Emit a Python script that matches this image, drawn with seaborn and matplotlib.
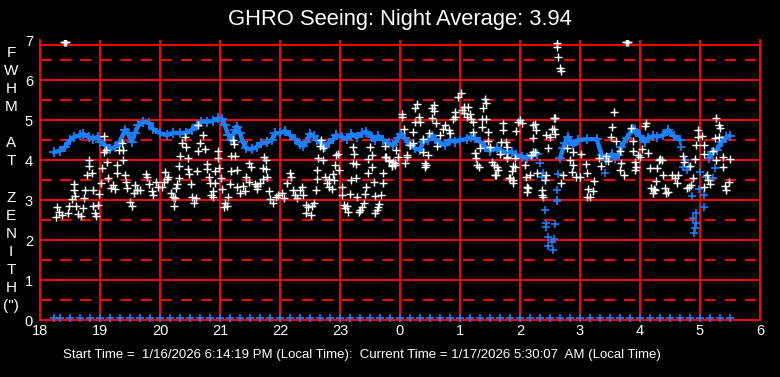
import seaborn as sns
import matplotlib.pyplot as plt

sns.set_style("dark")
plt.rcParams["font.family"] = ["Liberation Sans", "DejaVu Sans"]

# hours keep counting past midnight: 24 = 0h, 25 = 1h ...
tick_hours = [18, 19, 20, 21, 22, 23, 24, 25, 26, 27, 28, 29, 30]
tick_labels = ["18", "19", "20", "21", "22", "23", "0", "1", "2", "3", "4", "5", "6"]
y_ticks = [0, 1, 2, 3, 4, 5, 6, 7]
solid_levels = [1, 2, 3, 4, 5, 6]
dashed_levels = [0.5, 1.5, 2.5, 3.5, 4.5, 5.5, 6.5]

# blue running average (three pieces, broken where it drops)
avg1_h = [18.23, 18.33, 18.42, 18.50, 18.56, 18.67, 18.72, 18.81, 18.89, 18.96,
          19.00, 19.08, 19.17, 19.25, 19.33, 19.42, 19.47, 19.53, 19.58, 19.64,
          19.72, 19.81, 19.89, 20.00, 20.11, 20.22, 20.33, 20.44, 20.53, 20.61,
          20.69, 20.78, 20.89, 20.97, 21.03, 21.08, 21.14, 21.19, 21.25, 21.29,
          21.33, 21.38, 21.44, 21.53, 21.61, 21.69, 21.78, 21.86, 21.92, 22.00,
          22.08, 22.17, 22.25, 22.33, 22.39, 22.44, 22.50, 22.56, 22.61, 22.69,
          22.75, 22.81, 22.89, 22.94, 23.03, 23.11, 23.19, 23.28, 23.36, 23.44,
          23.53, 23.58, 23.64, 23.72, 23.81, 23.89, 23.97, 24.02, 24.08, 24.17,
          24.25, 24.33, 24.39, 24.47, 24.53, 24.58, 24.67, 24.75, 24.83, 24.92,
          25.00, 25.11, 25.19, 25.25, 25.33, 25.42, 25.50, 25.61, 25.69, 25.78,
          25.86, 25.94, 26.03, 26.11, 26.20, 26.28]
avg1_v = [4.19, 4.23, 4.33, 4.50, 4.57, 4.62, 4.65, 4.57, 4.53, 4.58,
          4.46, 4.37, 4.27, 4.33, 4.46, 4.75, 4.67, 4.46, 4.67, 4.87,
          4.96, 4.93, 4.77, 4.67, 4.62, 4.68, 4.67, 4.68, 4.75, 4.87,
          4.96, 4.96, 4.98, 5.04, 5.02, 4.87, 4.62, 4.50, 4.75, 4.83,
          4.67, 4.46, 4.29, 4.27, 4.33, 4.42, 4.44, 4.50, 4.67, 4.67,
          4.73, 4.62, 4.52, 4.40, 4.35, 4.46, 4.65, 4.60, 4.50, 4.42,
          4.33, 4.43, 4.52, 4.62, 4.58, 4.52, 4.65, 4.57, 4.67, 4.71,
          4.58, 4.50, 4.60, 4.50, 4.42, 4.37, 4.55, 4.65, 4.54, 4.37,
          4.29, 4.25, 4.46, 4.50, 4.60, 4.52, 4.43, 4.37, 4.50, 4.46,
          4.50, 4.52, 4.58, 4.54, 4.46, 4.33, 4.23, 4.29, 4.23, 4.17,
          4.21, 4.12, 4.08, 4.06, 4.10, 4.15]
avg2_h = [26.67, 26.72, 26.75, 26.80, 26.89, 26.97, 27.11, 27.28, 27.36, 27.44,
          27.53, 27.58, 27.64, 27.69, 27.78, 27.89, 27.92, 28.00, 28.08, 28.14,
          28.22, 28.28, 28.39, 28.47, 28.56, 28.67]
avg2_v = [4.05, 4.30, 4.42, 4.58, 4.37, 4.50, 4.52, 4.52, 4.12, 4.00,
          4.15, 4.05, 4.12, 4.33, 4.56, 4.78, 4.75, 4.60, 4.46, 4.55,
          4.60, 4.58, 4.62, 4.75, 4.60, 4.50]
avg3_h = [29.15, 29.20, 29.28, 29.36, 29.44, 29.50]
avg3_v = [4.05, 4.20, 4.25, 4.46, 4.58, 4.60]

# blue points scattered where the average collapses
drop_h = [26.33, 26.36, 26.39, 26.41, 26.43, 26.44, 26.47, 26.53, 26.47, 26.55,
          26.57, 26.59, 26.61, 26.61, 26.64, 26.62, 27.42, 28.69, 28.72, 28.75,
          28.78, 28.81, 28.87, 28.89, 28.90, 28.92, 28.94, 28.94, 28.98, 29.00,
          29.06, 29.07, 29.10, 29.25, 29.22]
drop_v = [3.93, 3.58, 3.67, 2.75, 2.43, 2.33, 2.07, 1.95, 1.85, 1.75,
          2.02, 2.40, 3.25, 2.98, 3.65, 3.00, 3.67, 4.33, 3.83, 4.00,
          3.75, 3.83, 3.10, 2.54, 2.17, 2.30, 2.42, 2.67, 3.27, 3.70,
          3.12, 2.83, 3.58, 3.80, 3.55]

# blue flags along the bottom
flag_h = [18.23, 18.33, 18.50, 18.67, 18.83,
          19.00, 19.17, 19.33, 19.50, 19.67, 19.83,
          20.00, 20.17, 20.33, 20.50, 20.67, 20.83,
          21.00, 21.17, 21.33, 21.50, 21.67, 21.83,
          22.00, 22.17, 22.33, 22.50, 22.67, 22.83,
          23.00, 23.17, 23.33, 23.50, 23.67, 23.83,
          24.00, 24.17, 24.33, 24.50, 24.67, 24.83,
          25.00, 25.17, 25.33, 25.50, 25.67, 25.83,
          26.00, 26.17, 26.33, 26.50, 26.67, 26.83,
          27.00, 27.17, 27.33, 27.50, 27.67, 27.83,
          28.00, 28.17, 28.33, 28.50, 28.67, 28.83,
          29.00, 29.17, 29.33, 29.50]
flag_v = [0.06] * len(flag_h)

# white individual seeing samples
seeing_h = [
    18.27, 18.29, 18.31, 18.36, 18.40, 18.42, 18.44, 18.47, 18.49, 18.53,
    18.56, 18.57, 18.59, 18.60, 18.64, 18.69, 18.72, 18.74, 18.75, 18.78,
    18.81, 18.82, 18.86, 18.88, 18.89, 18.92, 18.93, 18.97, 18.99, 19.02,
    19.04, 19.06, 19.07, 19.10, 19.12, 19.14, 19.18, 19.21, 19.25, 19.28,
    19.29, 19.31, 19.36, 19.38, 19.39, 19.42, 19.44, 19.45, 19.50, 19.53,
    19.56, 19.58, 19.61, 19.67, 19.77, 19.78, 19.82, 19.86, 19.89, 19.94,
    19.97,
    20.72, 20.64, 20.36, 20.44, 20.42, 20.66, 20.64, 20.75, 20.96, 20.34,
    20.46, 20.96, 21.21, 21.23, 21.19, 21.25, 21.49, 21.51, 21.73, 21.77,
    21.77, 21.72, 21.78, 20.32, 20.47, 20.62, 20.78, 20.79, 20.92, 20.99,
    21.18, 21.28, 20.09, 20.14, 20.31, 20.49, 20.81, 21.02, 20.06, 20.03,
    20.12, 20.28, 20.27, 20.52, 20.83, 20.91, 21.16, 21.04, 20.89, 21.44,
    21.49, 21.38, 21.29, 21.42, 21.33, 21.58, 21.61, 21.67, 21.62, 21.81,
    21.71, 20.18, 20.21, 20.25, 20.23, 20.54, 20.60, 20.56, 20.85, 20.88,
    21.14, 21.08, 21.11, 21.07, 21.83, 21.89, 21.94, 21.97,
    22.69, 22.67, 22.72, 23.22, 23.24, 23.50, 23.53, 23.47, 23.75, 23.94,
    22.97, 22.93, 22.64, 22.72, 23.77, 23.81, 23.89, 23.92, 23.86, 23.97,
    22.92, 22.99, 23.21, 23.27, 22.62, 23.54, 23.46, 23.72, 22.16, 22.18,
    22.11, 22.61, 22.75, 22.89, 22.82, 22.78, 22.81, 22.86, 23.03, 22.90,
    23.18, 23.27, 23.44, 23.56, 23.71, 22.21, 22.36, 22.33, 22.25, 22.28,
    22.39, 22.60, 22.03, 22.06, 23.03, 23.17, 23.29, 23.42, 23.58, 23.69,
    22.43, 22.47, 22.56, 22.54, 22.43, 22.51, 23.06, 23.11, 23.08, 23.13,
    23.40, 23.36, 23.33, 23.31, 23.65, 23.63, 23.61, 23.59, 23.75, 23.81,
    23.86, 23.92,
    25.02, 24.96, 25.42, 25.43, 24.28, 24.25, 24.56, 24.54, 24.57, 24.03,
    24.04, 25.06, 25.04, 25.14, 25.07, 25.17, 25.11, 25.19, 24.91, 24.92,
    24.89, 25.39, 24.31, 24.25, 24.33, 24.53, 24.60, 25.37, 25.44, 25.21,
    25.72, 25.97, 24.75, 24.72, 24.81, 24.83, 24.22, 24.49, 24.66, 25.22,
    25.36, 25.46, 25.71, 25.94, 24.06, 24.21, 24.17, 24.38, 24.62, 25.47,
    25.69, 25.77, 25.33, 25.50, 25.78, 24.38, 24.47, 24.12, 24.11, 25.25,
    25.27, 25.67, 25.79, 25.92, 24.42, 24.44, 24.42, 25.28, 25.31, 25.53,
    25.56, 25.61, 25.89, 25.64, 25.60, 25.86, 25.81, 25.89, 24.08, 25.58,
    25.83, 25.89, 26.14,
    26.03, 26.25, 26.27, 26.22, 26.58, 26.56, 26.50, 26.58, 26.47, 26.25,
    26.19, 26.44, 26.08, 26.17, 26.10, 26.11, 26.11, 26.36, 26.36, 26.39,
    26.28, 26.44, 26.42, 26.69, 26.72, 26.83, 26.86, 26.94, 26.89, 26.78,
    26.62, 26.61, 26.64, 26.67, 26.69, 26.57, 26.00, 26.22, 26.53, 26.21,
    25.78, 25.92, 26.88, 27.02, 27.10, 27.00, 27.11, 27.24, 27.14, 27.12,
    27.17, 27.21, 27.54, 27.52, 27.60, 27.32, 27.35, 27.47, 27.43, 27.67,
    27.69, 27.74, 27.66, 27.57, 27.76, 27.78, 27.80,
    28.10, 27.85, 27.88, 27.89, 27.96, 28.14, 28.04, 28.00, 27.92, 27.94,
    27.92, 28.17, 28.28, 28.31, 28.36, 28.27, 28.19, 28.25, 28.22, 28.39,
    28.53, 28.58, 28.61, 28.42, 28.46, 28.64, 28.71, 28.73, 28.83, 28.89,
    28.81, 28.85, 28.78, 28.92, 28.93, 28.96, 28.97, 29.03, 29.06, 29.07,
    29.11, 29.14, 29.17, 29.22, 29.27, 29.31, 29.27, 29.33, 29.25, 29.32,
    29.38, 29.39, 29.42, 29.44, 29.50, 29.49, 29.06, 28.08, 28.44, 28.23,
    28.33]
seeing_v = [
    2.58, 2.83, 2.71, 2.62, 6.95, 6.95, 6.95, 2.67, 2.86, 3.02,
    3.39, 3.25, 3.10, 2.85, 2.64, 2.60, 2.80, 3.04, 3.25, 3.62,
    4.00, 3.85, 3.67, 3.25, 2.86, 2.67, 2.60, 2.88, 3.15, 3.42,
    3.79, 4.21, 4.60, 4.25, 3.96, 3.54, 3.31, 3.38, 3.27, 3.67,
    3.87, 4.25, 4.42, 4.25, 4.00, 3.62, 3.46, 3.29, 2.94, 2.86,
    3.17, 3.37, 3.25, 3.25, 3.64, 3.58, 3.39, 3.23, 3.12, 3.46,
    3.33,
    4.62, 4.88, 4.43, 4.33, 4.57, 4.42, 4.23, 4.27, 4.23, 4.10,
    4.04, 4.04, 4.50, 4.40, 4.10, 4.10, 3.93, 3.83, 4.07, 4.00,
    3.77, 3.79, 3.58, 3.85, 3.78, 3.72, 3.90, 3.77, 3.73, 3.79,
    3.72, 3.75, 3.71, 3.58, 3.56, 3.64, 3.58, 3.54, 3.46, 3.33,
    3.52, 3.39, 3.29, 3.39, 3.42, 3.42, 3.39, 3.27, 3.22, 3.58,
    3.46, 3.36, 3.32, 3.23, 3.18, 3.39, 3.35, 3.42, 3.27, 3.22,
    3.52, 3.17, 3.07, 3.04, 2.85, 3.08, 3.04, 2.93, 3.12, 3.07,
    3.08, 2.92, 2.85, 2.83, 3.02, 2.92, 3.08, 3.12,
    4.50, 4.35, 4.29, 4.32, 4.15, 4.32, 4.13, 4.02, 4.35, 4.25,
    4.15, 4.12, 4.06, 4.00, 4.07, 3.98, 3.96, 3.87, 3.85, 4.07,
    3.88, 3.75, 3.92, 3.90, 3.75, 3.82, 3.67, 3.67, 3.68, 3.58,
    3.42, 3.52, 3.58, 3.64, 3.52, 3.42, 3.33, 3.27, 3.33, 3.50,
    3.50, 3.54, 3.33, 3.44, 3.42, 3.25, 3.33, 3.25, 3.12, 3.04,
    3.12, 3.25, 3.17, 3.04, 3.12, 3.14, 3.08, 3.14, 3.10, 3.12,
    2.88, 2.83, 2.92, 2.85, 2.67, 2.62, 2.88, 2.85, 2.79, 2.71,
    2.92, 2.83, 2.75, 2.69, 2.90, 2.83, 2.75, 2.68, 4.08, 4.00,
    3.88, 3.92,
    5.67, 5.58, 5.52, 5.43, 5.40, 5.29, 5.38, 5.29, 5.22, 5.15,
    5.07, 5.33, 5.25, 5.32, 5.18, 5.14, 5.07, 5.02, 5.21, 5.08,
    5.03, 5.29, 5.08, 4.96, 4.94, 5.06, 4.93, 5.02, 5.02, 4.94,
    4.93, 4.94, 4.88, 4.77, 4.75, 4.67, 4.71, 4.67, 4.62, 4.71,
    4.83, 4.71, 4.75, 4.73, 4.77, 4.43, 4.37, 4.52, 4.35, 4.48,
    4.46, 4.46, 4.29, 4.33, 4.33, 4.21, 4.12, 4.12, 4.07, 4.17,
    4.04, 4.15, 4.04, 4.06, 3.93, 3.88, 3.82, 3.88, 3.83, 3.96,
    3.88, 3.82, 3.85, 3.75, 3.62, 3.73, 3.54, 3.42, 3.93, 3.62,
    3.54, 3.50, 3.29,
    4.92, 4.89, 4.75, 4.54, 5.04, 4.77, 4.58, 4.65, 4.29, 4.21,
    4.12, 4.62, 3.88, 3.62, 3.58, 3.33, 3.19, 3.25, 3.12, 3.08,
    3.67, 3.62, 3.50, 3.42, 3.62, 4.00, 3.71, 3.58, 4.21, 4.29,
    6.93, 6.82, 6.57, 6.29, 6.23, 5.04, 5.00, 4.88, 4.77, 4.21,
    4.08, 3.83, 3.88, 4.15, 3.89, 3.58, 3.67, 3.48, 3.27, 3.08,
    3.08, 3.23, 4.82, 4.57, 4.47, 4.04, 3.85, 3.98, 4.10, 4.22,
    3.93, 3.62, 3.75, 5.21, 6.95, 6.95, 6.95,
    4.92, 4.79, 4.47, 4.22, 4.12, 4.18, 4.27, 4.07, 3.96, 3.83,
    3.75, 3.79, 3.79, 4.00, 4.00, 3.47, 3.29, 3.25, 3.17, 3.62,
    3.62, 3.54, 3.42, 3.29, 3.21, 3.62, 4.10, 3.96, 3.85, 3.54,
    3.33, 3.38, 3.29, 4.02, 4.38, 4.75, 4.58, 4.60, 4.38, 4.15,
    3.62, 3.50, 3.40, 4.22, 4.00, 4.88, 5.04, 4.79, 4.54, 4.58,
    4.07, 3.82, 3.35, 3.25, 4.02, 3.46, 3.33, 4.85, 3.17, 3.27,
    4.02]

red = "#ff0000"
blue = "#1a80ff"

fig = plt.figure(figsize=(7.8, 3.77), dpi=100, facecolor="black")
ax = fig.add_axes([40 / 780, 1 - 320 / 377, 720 / 780, 280 / 377])
ax.set_facecolor("black")

for lvl in solid_levels:
    ax.axhline(lvl, color=red, lw=1.45, zorder=1)
for lvl in dashed_levels:
    ax.axhline(lvl, color=red, lw=1.45, linestyle=(0, (5.5, 4.5)), zorder=1)
for hr in tick_hours[1:-1]:
    ax.axvline(hr, color=red, lw=1.45, zorder=1)
ax.axhline(6.875, color=red, lw=1.45, zorder=1)

for h_list, v_list in [(avg1_h, avg1_v), (avg2_h, avg2_v), (avg3_h, avg3_v)]:
    sns.lineplot(x=h_list, y=v_list, ax=ax, color=blue, lw=3.2, sort=False,
                 estimator=None, marker="+", markersize=7, mew=1.3,
                 markeredgecolor=blue, zorder=3)
sns.scatterplot(x=drop_h, y=drop_v, ax=ax, color=blue, marker="+", s=38,
                linewidth=1.2, zorder=3)
sns.scatterplot(x=flag_h, y=flag_v, ax=ax, color=blue, marker="+", s=32,
                linewidth=1.2, zorder=4, clip_on=False)
sns.scatterplot(x=seeing_h, y=seeing_v, ax=ax, color="white", marker="+", s=38,
                linewidth=1.05, zorder=5)

ax.set_xlim(18, 30)
ax.set_ylim(0, 7)
ax.set_xticks(tick_hours, tick_labels)
ax.set_yticks(y_ticks, [str(t) for t in y_ticks])
ax.tick_params(colors="white", length=0, labelsize=10.5, labelcolor="white")
ax.tick_params(axis="x", pad=3)
ax.tick_params(axis="y", pad=5)
ax.grid(False)
ax.set_xlabel("")
ax.set_ylabel("")
for side in ["left", "bottom", "right"]:
    ax.spines[side].set_color(red)
    ax.spines[side].set_linewidth(1.45)
    ax.spines[side].set_visible(True)
ax.spines["top"].set_visible(False)

fig.text(400 / 780, 1 - 20 / 377, "GHRO Seeing: Night Average: 3.94",
         color="white", fontsize=15.8, ha="center", va="center")
fig.text(362 / 780, 1 - 355 / 377,
         "Start Time =  1/16/2026 6:14:19 PM (Local Time):  Current Time = 1/17/2026 5:30:07  AM (Local Time)",
         color="white", fontsize=9.5, ha="center", va="center")

side_letters = ["F", "W", "H", "M", "", "A", "T", "", "Z", "E", "N", "I", "T", "H", "(\")"]
for i, ch in enumerate(side_letters):
    fig.text(11 / 780, 1 - (53 + i * 18.07) / 377, ch, color="white",
             fontsize=11, ha="center", va="center")

fig.savefig("out.png", dpi=100, facecolor="black")
